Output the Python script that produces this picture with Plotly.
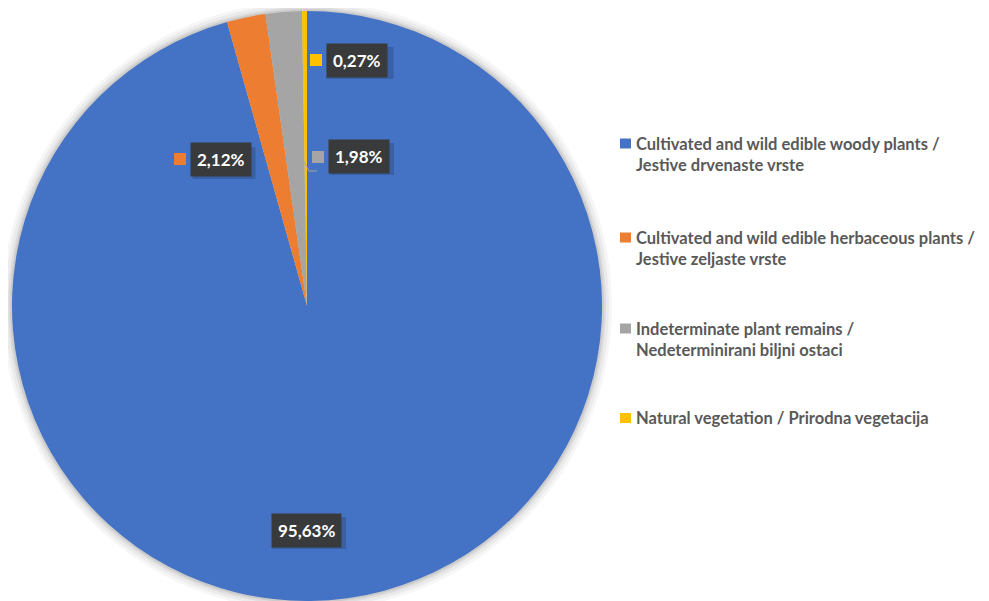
import plotly.graph_objects as go

# page is offset by the default 8px body margin
OFF = 8
PAGE_W, PAGE_H = 989, 601
W, H = PAGE_W - OFF, PAGE_H - OFF

labels = [
    "Cultivated and wild edible woody plants /<br>Jestive drvenaste vrste",
    "Cultivated and wild edible herbaceous plants /<br>Jestive zeljaste vrste",
    "Indeterminate plant remains /<br>Nedeterminirani biljni ostaci",
    "Natural vegetation / Prirodna vegetacija",
]
values = [95.63, 2.12, 1.98, 0.27]
value_text = ["95,63%", "2,12%", "1,98%", "0,27%"]
colors = ["#4472C4", "#ED7D31", "#A5A5A5", "#FFC000"]

# layout positions (page pixels) for callouts and legend
label_pos = [(306, 530), (221, 160), (359, 156), (357, 60)]
box_w = [74, 63, 64, 67]
square_pos = [None, (180, 159), (318, 157), (316, 60)]
legend_y = [154, 248, 339, 418]


def px(x):
    return (x - OFF) / W


def py(y):
    return 1 - (y - OFF) / H


cx, cy, r = 307, 306, 295

fig = go.Figure()
fig.add_trace(go.Pie(
    labels=labels,
    values=values,
    marker=dict(colors=colors, line=dict(width=0)),
    sort=False,
    direction="clockwise",
    rotation=0,
    textinfo="none",
    hoverinfo="label+percent",
    showlegend=False,
    domain=dict(x=[px(cx - r), px(cx + r)], y=[0, py(cy - r)]),
))

shapes = []
# soft glow/shadow around the pie
for d, op in [(10, 0.035), (7, 0.045), (4, 0.06), (2, 0.08)]:
    shapes.append(dict(
        type="circle", xref="paper", yref="paper", layer="below",
        x0=px(cx - r - d), x1=px(cx + r + d),
        y0=py(cy + r + d), y1=py(cy - r - d),
        fillcolor=f"rgba(0,0,0,{op})", line=dict(width=0),
    ))

annotations = []
for i, t in enumerate(value_text):
    x, y = label_pos[i]
    bw, bh = box_w[i], 32
    # drop shadow of the callout box
    shapes.append(dict(
        type="rect", xref="paper", yref="paper",
        x0=px(x - bw / 2 + 3), x1=px(x + bw / 2 + 3),
        y0=py(y + bh / 2 + 3), y1=py(y - bh / 2 + 3),
        fillcolor="rgba(0,0,0,0.16)", line=dict(width=0),
    ))
    annotations.append(dict(
        x=px(x), y=py(y), xref="paper", yref="paper",
        xanchor="center", yanchor="middle",
        text=t, showarrow=False,
        font=dict(family="Lato", size=17, color="white", weight="bold"),
        bgcolor="#383a3c", borderpad=6,
    ))
    if square_pos[i] is not None:
        sx, sy = square_pos[i]
        shapes.append(dict(
            type="rect", xref="paper", yref="paper",
            x0=px(sx - 6), x1=px(sx + 6), y0=py(sy + 6), y1=py(sy - 6),
            fillcolor=colors[i], line=dict(width=0),
        ))

# leader line for the grey callout
shapes.append(dict(
    type="path", xref="paper", yref="paper",
    path=f"M {px(304)},{py(162)} L {px(309)},{py(171)} L {px(317)},{py(171)}",
    line=dict(color="#A5A5A5", width=1),
))

# legend drawn as annotations
for i, lab in enumerate(labels):
    y = legend_y[i]
    nlines = lab.count("<br>") + 1
    top = y - (nlines - 1) * 10.5
    shapes.append(dict(
        type="rect", xref="paper", yref="paper",
        x0=px(620), x1=px(631), y0=py(top + 5), y1=py(top - 5),
        fillcolor=colors[i], line=dict(width=0),
    ))
    annotations.append(dict(
        x=px(634), y=py(y), xref="paper", yref="paper",
        xanchor="left", yanchor="middle", align="left",
        text=lab, showarrow=False,
        font=dict(family="Lato", size=16.5, color="#595959", weight="bold"),
    ))

fig.update_layout(
    width=W, height=H,
    margin=dict(l=0, r=0, t=0, b=0),
    paper_bgcolor="white",
    plot_bgcolor="white",
    shapes=shapes,
    annotations=annotations,
    showlegend=False,
)

fig.write_html("out.html")
